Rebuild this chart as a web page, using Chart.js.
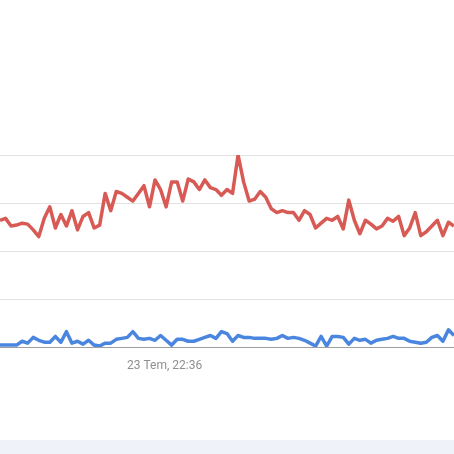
<!DOCTYPE html>
<html>
<head>
<meta charset="utf-8">
<script src="https://cdn.jsdelivr.net/npm/chart.js@4.4.1/dist/chart.umd.min.js"></script>
<style>
  html, body { margin: 0; padding: 0; background: #ffffff; }
  body { width: 454px; height: 454px; position: relative; overflow: hidden; }
  #wrap { position: absolute; left: 0; top: 145px; width: 454px; height: 230px; }
  #strip { position: absolute; left: 0; top: 440px; width: 454px; height: 14px; background: #eff2f9; }
</style>
</head>
<body>
<div id="wrap"><canvas id="trendChart"></canvas></div>
<div id="strip"></div>
<script>
// series values (0-100 scale)
const redSeries = [
  66, 67, 63, 63.5, 64.5, 64, 61, 57.5, 67, 73,
  62, 69, 63, 71, 61, 68, 70, 62, 63.5, 80,
  71, 81, 80, 78, 76, 80, 84, 73, 87, 82,
  73, 86, 86, 76, 87.5, 86, 82, 87, 83, 82,
  79, 82, 80, 100, 86, 76, 77, 81, 78, 72,
  70, 71, 70, 70, 66, 71, 69, 62, 64.5, 67,
  66, 68, 61.5, 76.5, 66, 59, 66, 64, 61.5, 63,
  67, 65.5, 68, 58, 62, 70, 58, 60, 63, 66,
  58, 65, 63
];
const blueSeries = [
  1, 1, 1, 1, 3, 2, 5, 3.5, 2.5, 2.5,
  5.5, 2.5, 8, 2, 3, 1.5, 3.5, 1, 0.5, 2,
  2, 4, 4.5, 5, 8, 4.5, 4, 4.5, 3.5, 6,
  3.5, 1, 4, 4, 3, 3, 4, 5, 6, 4.5,
  8, 7, 3, 6, 5, 5, 4.5, 4.5, 4.5, 4,
  4.5, 6, 4.5, 5, 4.5, 3.5, 2, 0.5, 5.5, 0.5,
  5.5, 5.5, 5, 1.5, 4.5, 3.5, 4, 2, 3.5, 4,
  4.5, 5.5, 4.5, 4.5, 3, 2.5, 2, 2.5, 5, 6,
  3, 9, 6
];

// only one time label is visible
const tickLabelIndex = 29;
const tickLabelText = "23 Tem, 22:36";
const yTicks = [0, 25, 50, 75, 100];

const labels = redSeries.map((v, i) => i);

const ctx = document.getElementById("trendChart");

new Chart(ctx, {
  type: "line",
  data: {
    labels: labels,
    datasets: [
      {
        data: redSeries,
        borderColor: "#d85a55",
        borderWidth: 3.5,
        pointRadius: 0,
        tension: 0,
        borderJoinStyle: "round"
      },
      {
        data: blueSeries,
        borderColor: "#4a86e0",
        borderWidth: 3.5,
        pointRadius: 0,
        tension: 0,
        borderJoinStyle: "round"
      }
    ]
  },
  options: {
    responsive: true,
    maintainAspectRatio: false,
    animation: false,
    layout: { padding: { top: 10, left: 0, right: 0, bottom: 0 } },
    plugins: {
      legend: { display: false },
      tooltip: { enabled: false }
    },
    scales: {
      x: {
        grid: { display: false },
        border: { display: true, color: "#9e9e9e", width: 1 },
        ticks: {
          autoSkip: false,
          maxRotation: 0,
          padding: 4,
          labelOffset: 4,
          color: "#8f8f8f",
          font: { family: "Roboto", size: 12 },
          callback: (value, index) => index === tickLabelIndex ? tickLabelText : ""
        },
        afterFit: (scale) => {
          scale.height = 28;
          scale.paddingLeft = 0;
          scale.paddingRight = 0;
        }
      },
      y: {
        min: 0,
        max: 100,
        afterBuildTicks: (scale) => { scale.ticks = yTicks.map(v => ({ value: v })); },
        ticks: { display: false },
        border: { display: false },
        grid: {
          drawTicks: false,
          lineWidth: 1,
          color: (c) => c.tick && c.tick.value === 0 ? "rgba(0,0,0,0)" : "#e2e2e2"
        },
        afterFit: (scale) => {
          scale.width = 0;
          scale.paddingTop = 0;
          scale.paddingBottom = 0;
        }
      }
    }
  }
});
</script>
</body>
</html>
